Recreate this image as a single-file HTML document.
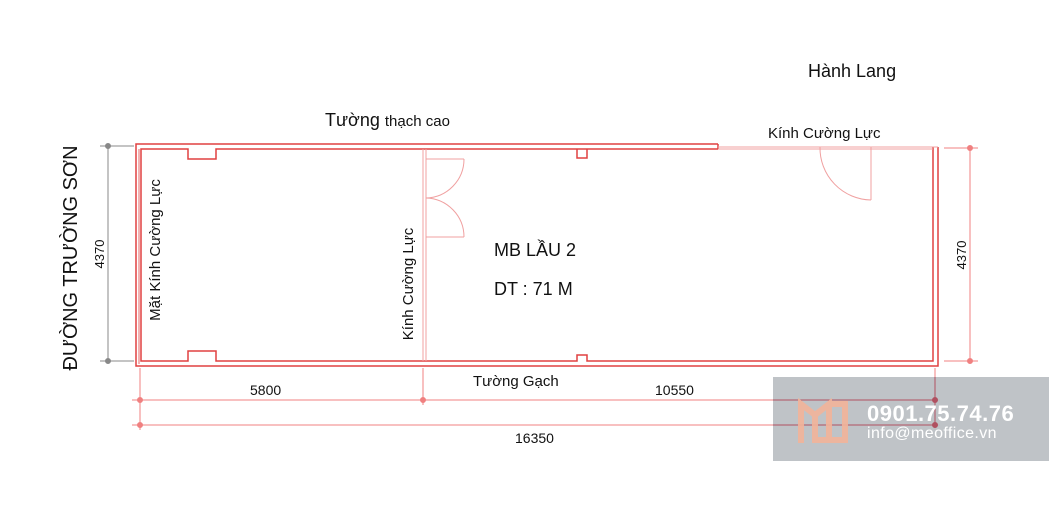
<!DOCTYPE html>
<html><head><meta charset="utf-8"><style>
html,body{margin:0;padding:0;background:#fff;width:1049px;height:520px;overflow:hidden}
svg{display:block}
text{font-family:"Liberation Sans",sans-serif;fill:#111}
</style></head><body>
<svg width="1049" height="520" viewBox="0 0 1049 520" xmlns="http://www.w3.org/2000/svg">
<g fill="none" stroke="#e04040" stroke-width="1.5">
  <polyline points="718,144 136,144 136,366 938,366 938,147"/>
  <line x1="718" y1="144" x2="718" y2="149"/>
  <polyline points="718,149 216,149 216,159 188,159 188,149 141,149 141,361 188,361 188,351 216,351 216,361 577,361 577,355 587,355 587,361 933,361 933,147"/>
  <polyline points="587,149 587,158 577,158 577,149" />
  <line x1="139" y1="149" x2="139" y2="364" stroke-width="0.8"/>
</g>
<g fill="none" stroke="#f0a0a0" stroke-width="1">
  <line x1="718" y1="147" x2="938" y2="147"/>
  <line x1="718" y1="149" x2="933" y2="149"/>
  <line x1="423" y1="149" x2="423" y2="361"/>
  <line x1="426" y1="149" x2="426" y2="361"/>
  <line x1="426" y1="159" x2="464" y2="159"/>
  <path d="M464,159 A39,39 0 0 1 426,198"/>
  <path d="M426,198 A39,39 0 0 1 464,237"/>
  <line x1="426" y1="237" x2="464" y2="237"/>
  <line x1="871" y1="147" x2="871" y2="200"/>
  <path d="M820,147 A52,52 0 0 0 871,200"/>
</g>
<g stroke="#888" stroke-width="1" fill="#888">
  <line x1="108" y1="146" x2="108" y2="362"/>
  <line x1="100" y1="146" x2="134" y2="146"/>
  <line x1="100" y1="361" x2="134" y2="361"/>
  <circle cx="108" cy="146" r="2.5"/><circle cx="108" cy="361" r="2.5"/>
</g>
<g stroke="#f08080" stroke-width="1" fill="#f08080">
  <line x1="970" y1="148" x2="970" y2="362"/>
  <line x1="944" y1="148" x2="978" y2="148"/>
  <line x1="944" y1="361" x2="978" y2="361"/>
  <circle cx="970" cy="148" r="2.5"/><circle cx="970" cy="361" r="2.5"/>
  <line x1="132" y1="400" x2="940" y2="400"/>
  <line x1="132" y1="425" x2="940" y2="425"/>
  <line x1="140" y1="368" x2="140" y2="430"/>
  <line x1="423" y1="368" x2="423" y2="405"/>
  <line x1="935" y1="368" x2="935" y2="430"/>
  <circle cx="140" cy="400" r="2.5"/><circle cx="423" cy="400" r="2.5"/>
  <circle cx="140" cy="425" r="2.5"/>
</g>
<text x="808" y="77" font-size="18">Hành Lang</text>
<text x="325" y="126" font-size="18">Tường <tspan font-size="15">thạch cao</tspan></text>
<text x="768" y="138" font-size="15">Kính Cường Lực</text>
<text x="494" y="256" font-size="18">MB LẦU 2</text>
<text x="494" y="295" font-size="18">DT : 71 M</text>
<text x="473" y="386" font-size="15">Tường Gạch</text>
<text x="250" y="395" font-size="14">5800</text>
<text x="655" y="395" font-size="14">10550</text>
<text x="515" y="443" font-size="14">16350</text>
<text transform="translate(77,258) rotate(-90)" font-size="20" text-anchor="middle" textLength="225" lengthAdjust="spacingAndGlyphs">ĐƯỜNG TRƯỜNG SƠN</text>
<text transform="translate(104,254) rotate(-90)" font-size="13" text-anchor="middle">4370</text>
<text transform="translate(966,255) rotate(-90)" font-size="13" text-anchor="middle">4370</text>
<text transform="translate(160,250) rotate(-90)" font-size="15" text-anchor="middle">Mặt Kính Cường Lực</text>
<text transform="translate(413,284) rotate(-90)" font-size="15" text-anchor="middle">Kính Cường Lực</text>
<rect x="773" y="377" width="276" height="84" fill="#b8bcc1" opacity="0.9"/>
<g stroke="#b05060" stroke-width="1" fill="#b05060">
  <line x1="773" y1="400" x2="935" y2="400"/>
  <line x1="773" y1="425" x2="935" y2="425"/>
  <line x1="935" y1="377" x2="935" y2="428"/>
  <circle cx="935" cy="400" r="2.5"/><circle cx="935" cy="425" r="2.5"/>
</g>
<g fill="none" stroke="#f2b49a" stroke-width="6" opacity="0.9">
  <polyline points="801,443 801,404 815,415 829,404 829,443"/>
  <polyline points="815,415 815,440 845,440 845,404 829,404"/>
</g>
<text x="867" y="421" font-size="22" font-weight="bold" letter-spacing="0.5" style="fill:#fff">0901.75.74.76</text>
<text x="867" y="438" font-size="16" letter-spacing="0.4" style="fill:#fff">info@meoffice.vn</text>
</svg>
</body></html>
